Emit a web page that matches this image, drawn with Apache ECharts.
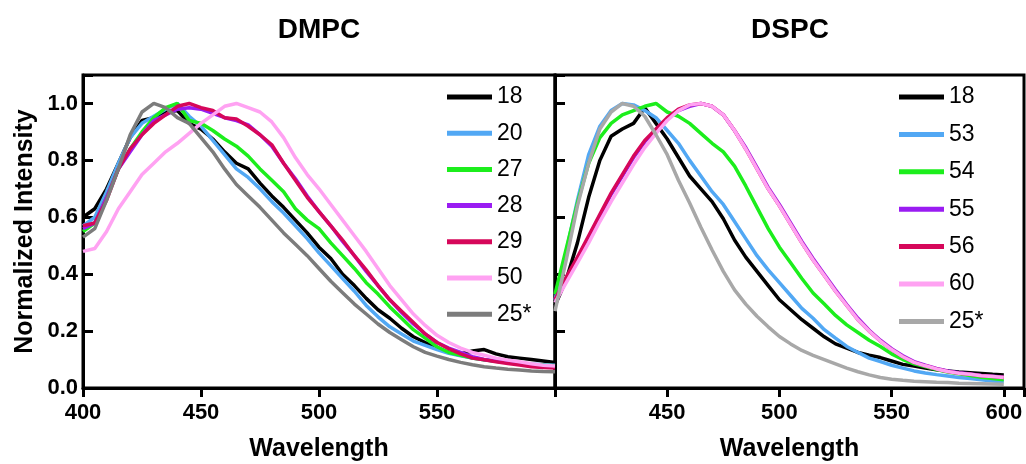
<!DOCTYPE html>
<html><head><meta charset="utf-8">
<script src="https://cdn.jsdelivr.net/npm/echarts@6/dist/echarts.min.js"></script>
<style>html,body{margin:0;padding:0;background:#fff}#c{width:1026px;height:464px}</style>
</head><body><div id="c"></div>
<script>
// Wavelength samples (nm)
const wavelengths = [400,405,410,415,420,425,430,435,440,445,450,455,460,465,470,475,480,485,490,495,500,505,510,515,520,525,530,535,540,545,550,555,560,565,570,575,580,585,590,595,600];

// DMPC panel
const dmpcNames = ['18','20','27','28','29','50','25*'];
const dmpc18 = [0.60,0.63,0.70,0.79,0.88,0.94,0.95,0.97,0.975,0.93,0.91,0.875,0.83,0.79,0.77,0.72,0.675,0.635,0.59,0.545,0.495,0.455,0.40,0.36,0.315,0.275,0.245,0.21,0.18,0.16,0.14,0.125,0.12,0.13,0.135,0.12,0.11,0.105,0.10,0.095,0.09];
const dmpc20 = [0.57,0.60,0.69,0.79,0.88,0.93,0.955,0.98,1.0,0.955,0.92,0.87,0.82,0.77,0.74,0.70,0.655,0.615,0.57,0.525,0.475,0.43,0.385,0.34,0.29,0.25,0.215,0.19,0.165,0.15,0.135,0.122,0.113,0.105,0.099,0.094,0.09,0.087,0.084,0.082,0.08];
const dmpc27 = [0.55,0.58,0.67,0.77,0.84,0.90,0.95,0.985,1.0,0.94,0.93,0.905,0.875,0.85,0.815,0.77,0.73,0.69,0.63,0.59,0.56,0.51,0.465,0.42,0.37,0.33,0.285,0.245,0.205,0.175,0.145,0.125,0.115,0.105,0.099,0.094,0.09,0.087,0.083,0.08,0.078];
const dmpc28 = [0.56,0.58,0.67,0.77,0.83,0.89,0.94,0.96,0.98,0.985,0.98,0.965,0.95,0.94,0.925,0.89,0.85,0.79,0.735,0.675,0.62,0.57,0.515,0.465,0.41,0.36,0.31,0.265,0.225,0.19,0.16,0.14,0.125,0.11,0.10,0.095,0.09,0.085,0.08,0.076,0.073];
const dmpc29 = [0.57,0.58,0.66,0.77,0.84,0.89,0.93,0.96,0.99,1.0,0.985,0.975,0.95,0.945,0.92,0.89,0.855,0.79,0.73,0.67,0.62,0.57,0.52,0.465,0.415,0.36,0.31,0.27,0.23,0.19,0.16,0.138,0.12,0.105,0.099,0.092,0.086,0.081,0.075,0.072,0.07];
const dmpc50 = [0.48,0.49,0.55,0.63,0.69,0.75,0.79,0.83,0.86,0.895,0.93,0.96,0.99,1.0,0.985,0.97,0.935,0.88,0.81,0.75,0.70,0.645,0.59,0.535,0.48,0.42,0.36,0.31,0.26,0.22,0.185,0.16,0.14,0.125,0.115,0.105,0.098,0.092,0.085,0.08,0.077];
const dmpc25s = [0.53,0.56,0.66,0.77,0.89,0.97,1.0,0.985,0.95,0.93,0.88,0.83,0.77,0.715,0.675,0.635,0.59,0.545,0.505,0.465,0.42,0.375,0.335,0.295,0.26,0.225,0.195,0.17,0.145,0.125,0.112,0.10,0.09,0.082,0.075,0.07,0.066,0.063,0.06,0.058,0.057];

// DSPC panel
const dspcNames = ['18','53','54','55','56','60','25*'];
const dspc18 = [0.29,0.38,0.51,0.67,0.80,0.885,0.91,0.93,0.985,0.93,0.875,0.81,0.745,0.70,0.655,0.595,0.52,0.46,0.41,0.36,0.31,0.275,0.24,0.21,0.18,0.155,0.14,0.125,0.115,0.107,0.095,0.083,0.077,0.07,0.064,0.06,0.056,0.054,0.051,0.048,0.046];
const dspc53 = [0.31,0.48,0.66,0.82,0.92,0.975,1.0,0.995,0.975,0.95,0.905,0.86,0.80,0.745,0.69,0.645,0.585,0.525,0.465,0.415,0.37,0.325,0.28,0.245,0.205,0.175,0.146,0.125,0.105,0.093,0.08,0.07,0.06,0.053,0.047,0.042,0.037,0.033,0.029,0.025,0.022];
const dspc54 = [0.33,0.49,0.65,0.79,0.88,0.93,0.96,0.975,0.99,1.0,0.97,0.955,0.93,0.895,0.86,0.83,0.78,0.71,0.635,0.56,0.495,0.44,0.385,0.334,0.295,0.255,0.222,0.195,0.168,0.146,0.12,0.10,0.085,0.075,0.065,0.056,0.05,0.044,0.038,0.033,0.029];
const dspc55 = [0.31,0.385,0.455,0.53,0.605,0.68,0.745,0.81,0.865,0.905,0.945,0.975,0.99,1.0,0.99,0.96,0.905,0.845,0.775,0.705,0.645,0.58,0.515,0.455,0.40,0.345,0.293,0.245,0.203,0.168,0.138,0.113,0.093,0.08,0.069,0.06,0.054,0.049,0.044,0.041,0.038];
const dspc56 = [0.31,0.39,0.46,0.535,0.61,0.685,0.75,0.815,0.87,0.91,0.95,0.98,0.995,1.0,0.99,0.96,0.905,0.84,0.77,0.70,0.64,0.575,0.51,0.45,0.395,0.34,0.29,0.24,0.20,0.165,0.135,0.11,0.09,0.078,0.067,0.058,0.052,0.048,0.043,0.04,0.037];
const dspc60 = [0.30,0.37,0.44,0.51,0.585,0.655,0.72,0.785,0.845,0.895,0.94,0.975,0.995,1.0,0.99,0.96,0.905,0.84,0.77,0.70,0.64,0.575,0.51,0.45,0.395,0.34,0.29,0.24,0.20,0.165,0.135,0.11,0.09,0.078,0.067,0.058,0.052,0.048,0.043,0.04,0.037];
const dspc25s = [0.27,0.45,0.64,0.79,0.91,0.97,1.0,0.99,0.955,0.89,0.82,0.73,0.65,0.565,0.485,0.41,0.345,0.295,0.252,0.215,0.181,0.155,0.132,0.115,0.10,0.085,0.07,0.057,0.046,0.037,0.031,0.027,0.024,0.022,0.02,0.019,0.017,0.016,0.015,0.014,0.013];

// Tick labels
const xTickLabelsLeft = ['400','450','500','550'];
const xTickLabelsRight = ['450','500','550','600'];
const yTickLabels = ['0.0','0.2','0.4','0.6','0.8','1.0'];

const dmpcColors = ['#000000','#52a8f4','#1cee1c','#9a1cf2','#d6075a','#ffa2f2','#7c7c7c'];
const dspcColors = ['#000000','#52a8f4','#1cee1c','#9a1cf2','#d6075a','#ffa2f2','#a8a8a8'];

const FONT = '"Liberation Sans", Arial, Helvetica, sans-serif';
const dmpcVals = [dmpc18,dmpc20,dmpc27,dmpc28,dmpc29,dmpc50,dmpc25s];
const dspcVals = [dspc18,dspc53,dspc54,dspc55,dspc56,dspc60,dspc25s];
function pairs(v){ return wavelengths.map((w,i)=>[w,v[i]]); }

function mkSeries(prefix, names, vals, colors, idx){
  return names.map((n,i)=>({
    type:'line', name: prefix + n, xAxisIndex: idx, yAxisIndex: idx,
    data: pairs(vals[i]), showSymbol:false, symbol:'none',
    lineStyle:{width:3.5, color: colors[i]}, itemStyle:{color: colors[i]},
    emphasis:{disabled:true}
  }));
}

function xAxisCfg(idx, max, labels){
  return {
    type:'value', gridIndex: idx, min:400, max:max, interval:50,
    axisLine:{show:true, onZero:false, lineStyle:{color:'#000', width:3}},
    axisTick:{show:true, inside:false, length:9, lineStyle:{color:'#000', width:3}},
    axisLabel:{formatter: v => labels.includes(String(v)) ? String(v) : '', fontSize:22, fontWeight:'bold', color:'#000', margin:14, fontFamily: FONT},
    splitLine:{show:false},
    name:'Wavelength', nameLocation:'middle', nameGap:49,
    nameTextStyle:{fontSize:25, fontWeight:'bold', color:'#000', fontFamily: FONT}
  };
}
function yAxisCfg(idx, showLabels){
  return {
    type:'value', gridIndex: idx, min:0, max:1.1, interval:0.2,
    axisLine:{show:true, onZero:false, lineStyle:{color:'#000', width:3}},
    axisTick:{show:true, inside:true, length:10, lineStyle:{color:'#000', width:3}},
    axisLabel:{show: showLabels, formatter: v => { const s = v.toFixed(1); return yTickLabels.includes(s) ? s : ''; },
      fontSize:22, fontWeight:'bold', color:'#000', margin:5, fontFamily: FONT},
    splitLine:{show:false},
    name: showLabels ? 'Normalized Intensity' : '', nameLocation:'middle', nameGap:45, nameRotate:90,
    nameTextStyle:{fontSize:25, fontWeight:'bold', color:'#000', fontFamily: FONT}
  };
}

const chart = echarts.init(document.getElementById('c'));
chart.setOption({
  animation:false,
  backgroundColor:'#ffffff',
  title:[
    {text:'DMPC', left:319, top:16, textAlign:'center', padding:0, textStyle:{fontSize:28, fontWeight:'bold', color:'#000', fontFamily: FONT}},
    {text:'DSPC', left:790, top:16, textAlign:'center', padding:0, textStyle:{fontSize:28, fontWeight:'bold', color:'#000', fontFamily: FONT}}
  ],
  grid:[
    {left:83, top:75, width:472, height:313, show:true, borderColor:'#000', borderWidth:3, outerBoundsMode:'none', containLabel:false},
    {left:555, top:75, width:469, height:313, show:true, borderColor:'#000', borderWidth:3, outerBoundsMode:'none', containLabel:false}
  ],
  xAxis:[ xAxisCfg(0, 600, xTickLabelsLeft), xAxisCfg(1, 609, xTickLabelsRight) ],
  yAxis:[ yAxisCfg(0, true), yAxisCfg(1, false) ],
  legend:[
    {data: dmpcNames.map(n=>'DMPC '+n), formatter: n => n.replace('DMPC ',''), orient:'vertical', left:447, top:85,
     icon:'rect', itemWidth:45, itemHeight:5, itemGap:12.2, padding:0, selectedMode:false,
     textStyle:{fontSize:23, color:'#000', fontFamily: FONT, lineHeight:24}},
    {data: dspcNames.map(n=>'DSPC '+n), formatter: n => n.replace('DSPC ',''), orient:'vertical', left:899, top:85,
     icon:'rect', itemWidth:45, itemHeight:5, itemGap:13.4, padding:0, selectedMode:false,
     textStyle:{fontSize:23, color:'#000', fontFamily: FONT, lineHeight:24}}
  ],
  series: mkSeries('DMPC ', dmpcNames, dmpcVals, dmpcColors, 0).concat(mkSeries('DSPC ', dspcNames, dspcVals, dspcColors, 1))
});
</script>
</body></html>
